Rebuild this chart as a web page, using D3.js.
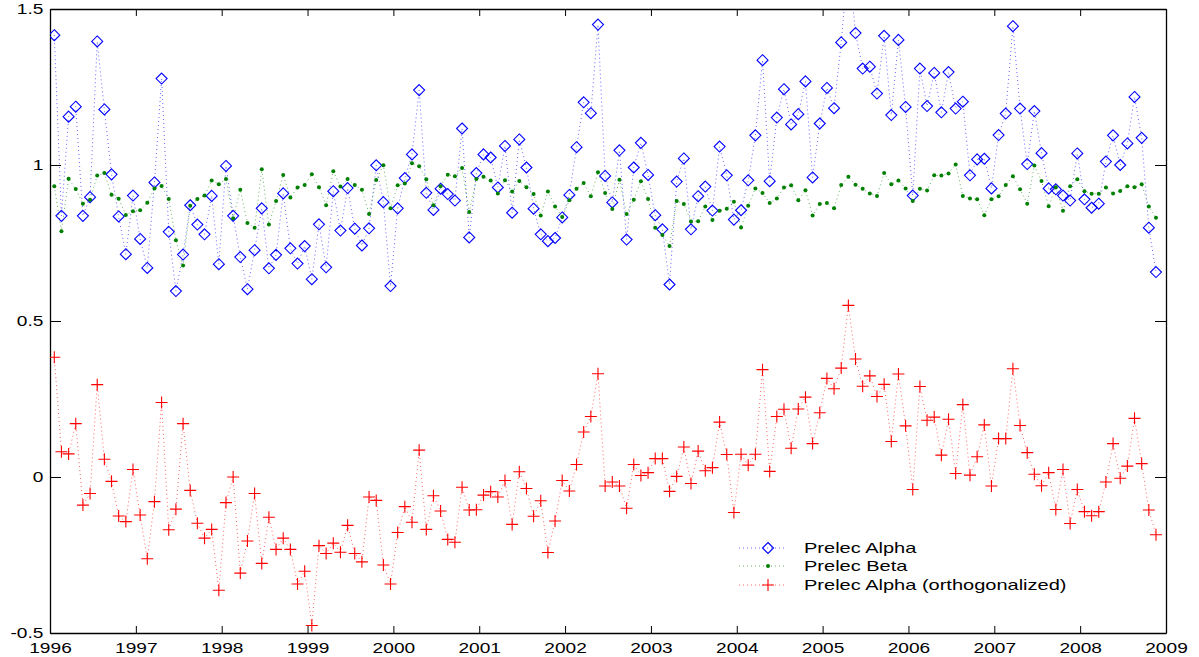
<!DOCTYPE html>
<html>
<head>
<meta charset="utf-8">
<script src="https://cdn.jsdelivr.net/npm/d3@7"></script>
<style>
  body { margin: 0; background: #fff; }
  svg text { font-family: "Liberation Sans", Arial, Helvetica, sans-serif; }
</style>
</head>
<body>
<script>
// monthly estimates, first month of 1996 to late 2008
var alphaVals = [1.416,0.837,1.155,1.187,0.837,0.897,1.396,1.178,0.970,0.835,
  0.714,0.902,0.763,0.670,0.944,1.277,0.786,0.596,0.713,0.871,
  0.809,0.778,0.901,0.682,0.997,0.837,0.705,0.602,0.727,0.861,
  0.669,0.712,0.909,0.733,0.684,0.740,0.634,0.810,0.672,0.916,
  0.790,0.926,0.796,0.742,0.797,0.999,0.881,0.612,0.861,0.958,
  1.034,1.240,0.911,0.856,0.924,0.907,0.886,1.117,0.768,0.974,
  1.034,1.024,0.928,1.061,0.847,1.082,0.992,0.860,0.778,0.756,
  0.766,0.832,0.904,1.057,1.201,1.166,1.450,0.965,0.880,1.047,
  0.761,0.992,1.071,0.968,0.839,0.794,0.617,0.947,1.021,0.794,
  0.900,0.931,0.854,1.059,0.967,0.825,0.855,0.951,1.095,1.336,
  0.948,1.152,1.243,1.130,1.163,1.268,0.960,1.133,1.247,1.182,
  1.393,1.660,1.423,1.309,1.315,1.229,1.414,1.160,1.401,1.186,
  0.902,1.309,1.189,1.295,1.169,1.298,1.181,1.203,0.967,1.018,
  1.020,0.925,1.096,1.165,1.445,1.181,1.003,1.173,1.038,0.925,
  0.922,0.902,0.886,1.037,0.890,0.863,0.876,1.011,1.095,1.000,
  1.069,1.218,1.087,0.799,0.657];

var betaVals = [0.932,0.788,0.956,0.923,0.876,0.889,0.966,0.974,0.905,0.892,
  0.840,0.852,0.855,0.879,0.925,0.933,0.891,0.759,0.678,0.869,
  0.891,0.902,0.950,0.938,0.955,0.829,0.921,0.814,0.799,0.986,
  0.809,0.885,0.968,0.896,0.928,0.936,0.970,0.929,0.871,0.980,
  0.931,0.955,0.936,0.921,0.843,0.952,0.999,0.861,0.935,0.941,
  1.006,0.996,0.954,0.871,0.932,0.969,0.964,0.990,0.849,0.955,
  0.962,0.950,0.909,0.951,0.915,0.949,0.929,0.907,0.838,0.915,
  0.867,0.833,0.887,0.924,0.942,0.900,0.977,0.910,0.859,0.953,
  0.843,0.889,0.948,0.891,0.799,0.776,0.740,0.885,0.875,0.819,
  0.820,0.867,0.824,0.853,0.860,0.882,0.800,0.869,0.925,0.910,
  0.878,0.893,0.928,0.935,0.887,0.919,0.838,0.875,0.878,0.861,
  0.936,0.962,0.937,0.924,0.909,0.901,0.974,0.938,0.950,0.925,
  0.885,0.924,0.918,0.967,0.966,0.973,1.002,0.901,0.893,0.890,
  0.839,0.890,0.900,0.936,0.964,0.922,0.876,0.998,0.949,0.868,
  0.929,0.853,0.932,0.954,0.916,0.908,0.908,0.928,0.909,0.917,
  0.932,0.929,0.938,0.867,0.831];

var orthoVals = [0.384,0.081,0.074,0.171,-0.090,-0.053,0.296,0.057,-0.014,-0.125,
  -0.143,0.024,-0.122,-0.262,-0.079,0.239,-0.169,-0.103,0.171,-0.043,
  -0.148,-0.196,-0.168,-0.363,-0.082,0.000,-0.308,-0.205,-0.053,-0.277,
  -0.129,-0.232,-0.196,-0.232,-0.343,-0.302,-0.476,-0.220,-0.245,-0.212,
  -0.241,-0.155,-0.245,-0.272,-0.064,-0.075,-0.282,-0.343,-0.178,-0.095,
  -0.145,0.086,-0.168,-0.060,-0.109,-0.200,-0.209,-0.033,-0.106,-0.105,
  -0.058,-0.047,-0.064,-0.011,-0.152,0.017,-0.037,-0.126,-0.076,-0.242,
  -0.141,-0.011,-0.045,0.040,0.144,0.194,0.331,-0.029,-0.016,-0.029,
  -0.100,0.040,0.005,0.014,0.059,0.059,-0.046,0.002,0.096,-0.021,
  0.083,0.020,0.030,0.176,0.072,-0.114,0.073,0.038,0.073,0.344,
  0.018,0.194,0.217,0.092,0.218,0.256,0.107,0.206,0.316,0.283,
  0.349,0.550,0.378,0.291,0.324,0.258,0.297,0.114,0.330,0.164,
  -0.040,0.290,0.182,0.192,0.070,0.185,0.011,0.232,0.006,0.065,
  0.167,-0.029,0.123,0.123,0.347,0.165,0.078,0.009,-0.028,0.014,
  -0.104,0.024,-0.149,-0.040,-0.111,-0.124,-0.111,-0.016,0.107,-0.004,
  0.035,0.188,0.043,-0.106,-0.185];

var xTicks = [1996,1997,1998,1999,2000,2001,2002,2003,2004,2005,2006,2007,2008,2009];
var yTicks = [-0.5,0,0.5,1,1.5];
var yTickLabels = ["-0.5","0","0.5","1","1.5"];
var seriesNames = ["Prelec Alpha","Prelec Beta","Prelec Alpha (orthogonalized)"];

var dates = alphaVals.map(function(d, i){ return 1996 + (i + 0.6) / 12; });

var W = 1199, H = 657;
var box = { left: 50, right: 1166, top: 9, bottom: 633 };
var textStretch = 1.32;   // the exported figure has wide lettering

var svg = d3.select("body").append("svg").attr("width", W).attr("height", H);

var x = d3.scaleLinear().domain([1996, 2009]).range([box.left, box.right]);
var y = d3.scaleLinear().domain([-0.5, 1.5]).range([box.bottom, box.top]);

svg.append("defs").append("clipPath").attr("id", "plotclip")
  .append("rect").attr("x", box.left).attr("y", box.top)
  .attr("width", box.right - box.left).attr("height", box.bottom - box.top);

// axes, MATLAB style box with inner ticks
var xAxisB = d3.axisBottom(x).tickValues(xTicks).tickFormat(d3.format("d"))
  .tickSizeInner(-7).tickSizeOuter(0).tickPadding(10);
var xAxisT = d3.axisTop(x).tickValues(xTicks).tickFormat("")
  .tickSizeInner(-7).tickSizeOuter(0);
var yAxisL = d3.axisLeft(y).tickValues(yTicks)
  .tickFormat(function(d, i){ return yTickLabels[i]; })
  .tickSizeInner(-11).tickSizeOuter(0).tickPadding(5);
var yAxisR = d3.axisRight(y).tickValues(yTicks).tickFormat("")
  .tickSizeInner(-11).tickSizeOuter(0);

function styleAxis(g){
  g.selectAll("path").attr("stroke", "#000").attr("stroke-width", 1.3);
  g.selectAll("line").attr("stroke", "#000");
  g.selectAll("text").attr("fill", "#000").style("font-size", "14.5px")
    .attr("transform", "scale(" + textStretch + ",1)");
}

svg.append("g").attr("transform", "translate(0," + box.bottom + ")").call(xAxisB).call(styleAxis);
svg.append("g").attr("transform", "translate(0," + box.top + ")").call(xAxisT).call(styleAxis);
svg.append("g").attr("transform", "translate(" + box.left + ",0)").call(yAxisL).call(styleAxis);
svg.append("g").attr("transform", "translate(" + box.right + ",0)").call(yAxisR).call(styleAxis);

var plot = svg.append("g").attr("clip-path", "url(#plotclip)");

var line = d3.line().x(function(d){ return x(d[0]); }).y(function(d){ return y(d[1]); });

function pairs(vals){ return vals.map(function(v, i){ return [dates[i], v]; }); }

var colors = ["#0000ff", "#008000", "#ff0000"];
var allVals = [alphaVals, betaVals, orthoVals];

for (var s = 0; s < 3; s++) {
  plot.append("path").datum(pairs(allVals[s]))
    .attr("d", line).attr("fill", "none")
    .attr("stroke", colors[s]).attr("stroke-width", 1)
    .attr("stroke-opacity", 0.6)
    .attr("stroke-dasharray", "1,3");
}

// markers
function drawMarker(g, kind, cx, cy){
  if (kind === 0) {
    g.append("path").attr("d", "M" + cx + "," + (cy - 5.5) + "L" + (cx + 5.5) + "," + cy +
      "L" + cx + "," + (cy + 5.5) + "L" + (cx - 5.5) + "," + cy + "Z")
      .attr("fill", "none").attr("stroke", colors[0]).attr("stroke-width", 1.1);
  } else if (kind === 1) {
    g.append("circle").attr("cx", cx).attr("cy", cy).attr("r", 2).attr("fill", colors[1]);
  } else {
    g.append("path").attr("d", "M" + (cx - 6) + "," + cy + "H" + (cx + 6) +
      "M" + cx + "," + (cy - 6) + "V" + (cy + 6))
      .attr("stroke", colors[2]).attr("stroke-width", 1.1);
  }
}

for (var s2 = 0; s2 < 3; s2++) {
  var mg = plot.append("g");
  allVals[s2].forEach(function(v, i){
    drawMarker(mg, s2, x(dates[i]), y(v));
  });
}

// legend, no box
var legend = svg.append("g");
var legendY = [548, 566, 585];
for (var j = 0; j < 3; j++) {
  legend.append("line").attr("x1", 739).attr("x2", 785)
    .attr("y1", legendY[j]).attr("y2", legendY[j])
    .attr("stroke", colors[j]).attr("stroke-dasharray", "1,3").attr("stroke-opacity", 0.6);
  drawMarker(legend, j, 768, legendY[j]);
  legend.append("text")
    .attr("transform", "translate(804," + legendY[j] + ") scale(1.38,1)")
    .attr("dy", "0.35em")
    .style("font-size", "14.5px").attr("fill", "#000").text(seriesNames[j]);
}
</script>
</body>
</html>
